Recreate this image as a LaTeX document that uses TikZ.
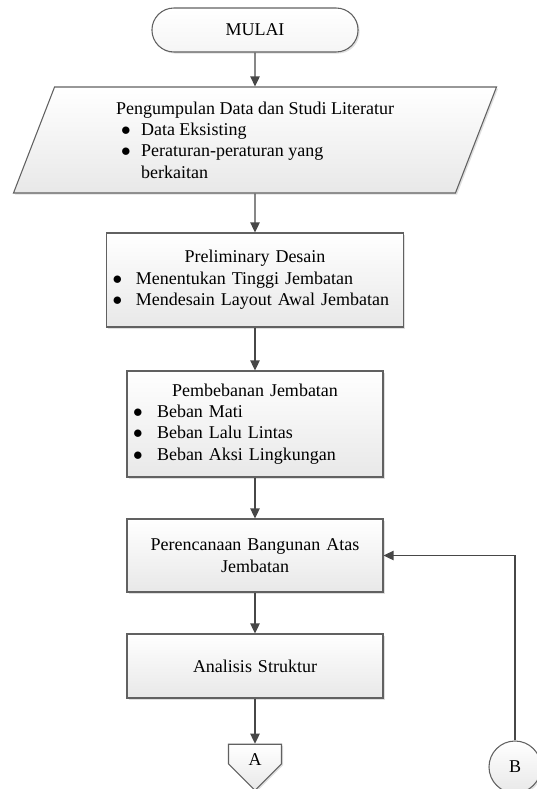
\documentclass[tikz,border=0pt]{standalone}
\usepackage{fontspec}
\setmainfont{Liberation Serif}
\usetikzlibrary{arrows.meta,shapes.geometric,shapes.misc,shapes.symbols,shadows}
\newcommand{\blt}[1][17.5pt]{\makebox[#1][l]{$\bullet$}}

\begin{document}
\begin{tikzpicture}[x=0.75pt,y=-0.75pt,
  box/.style={draw=black!62,line width=0.8pt,top color=white,bottom color=black!9,drop shadow={opacity=0.25,shadow xshift=1.2pt,shadow yshift=-1.2pt},font=\fontsize{13.5pt}{16pt}\selectfont,inner ysep=2pt},
  proc/.style={box,rectangle,minimum width=192pt,text width=183pt,inner xsep=4.5pt},
  flow/.style={draw=black!72,line width=1pt,-{Triangle[length=7.5pt,width=7pt]}}]
\useasboundingbox (0,0) rectangle (536,789);
\node[box,rounded rectangle,minimum width=161.25pt,minimum height=33pt,bottom color=black!4] (mulai) at (255,30) {MULAI};
\node[box,trapezium,trapezium left angle=63.4,trapezium right angle=116.6,trapezium stretches body,minimum width=362.25pt,minimum height=79.5pt,align=left] (data) at (255,140) {Pengumpulan Data dan Studi Literatur\\\hspace*{3.75pt}\blt[15pt]Data Eksisting\\\hspace*{3.75pt}\blt[15pt]Peraturan-peraturan yang\\\hspace*{18.75pt}berkaitan};
\node[proc,text width=213.75pt,minimum height=70.5pt,align=left] (desain) at (255,280) {{\centering Preliminary Desain\par}\blt Menentukan Tinggi Jembatan\\\blt Mendesain Layout Awal Jembatan};
\node[proc,minimum height=79.5pt,align=left] (beban) at (255,424) {{\centering Pembebanan Jembatan\par}\blt[18pt]Beban Mati\\\blt[18pt]Beban Lalu Lintas\\\blt[18pt]Beban Aksi Lingkungan};
\node[proc,minimum height=54.75pt,align=center] (atas) at (255,555.5) {Perencanaan Bangunan Atas\\Jembatan};
\node[proc,minimum height=48pt,align=center] (analisis) at (255,666) {Analisis Struktur};
\node[box,signal,signal to=south,signal pointer angle=90,minimum width=39.75pt,minimum height=19.5pt,inner sep=0pt] (ka) at (255,754) {\raisebox{-4pt}[\height][\depth]{A}};
\node[box,circle,minimum size=39pt,inner sep=0pt] (kb) at (515,767) {B};
% alur utama
\draw[flow] (mulai.south) -- (data.north);
\draw[flow] (data.south) -- (desain.north);
\draw[flow] (desain.south) -- (beban.north);
\draw[flow] (beban.south) -- (atas.north);
\draw[flow] (atas.south) -- (analisis.north);
\draw[flow] (analisis.south) -- (ka.north);
% kembali dari B
\draw[flow] (kb.north) |- (atas.east);
\end{tikzpicture}
\end{document}
